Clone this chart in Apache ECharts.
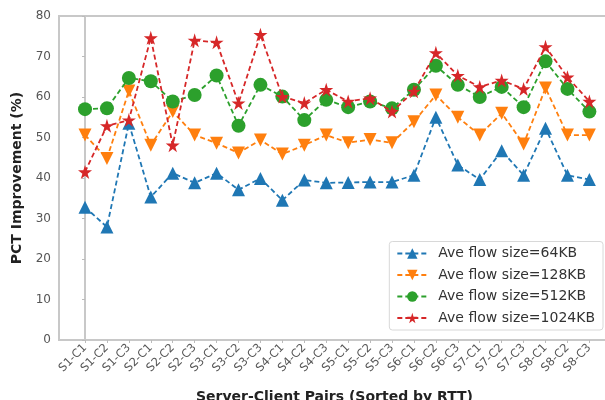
<!DOCTYPE html>
<html>
<head>
<meta charset="utf-8">
<script src="https://cdn.jsdelivr.net/npm/echarts@6/dist/echarts.min.js"></script>
<style>html,body{margin:0;padding:0;background:#fff}#c{width:605px;height:400px}</style>
</head>
<body>
<div id="c"></div>
<script>
const categories = ["S1-C1","S1-C2","S1-C3","S2-C1","S2-C2","S2-C3","S3-C1","S3-C2","S3-C3","S4-C1","S4-C2","S4-C3",
  "S5-C1","S5-C2","S5-C3","S6-C1","S6-C2","S6-C3","S7-C1","S7-C2","S7-C3","S8-C1","S8-C2","S8-C3"];
const seriesNames = ["Ave flow size=64KB","Ave flow size=128KB","Ave flow size=512KB","Ave flow size=1024KB"];
const flow64 = [32.8,27.9,53.5,35.3,41.2,38.8,41.2,37.1,39.9,34.5,39.5,38.8,38.9,39.0,39.0,40.7,55.0,43.2,39.6,46.7,40.7,52.3,40.7,39.6];
const flow128 = [50.6,44.8,61.5,48.1,56.4,50.6,48.6,46.2,49.4,45.9,48.1,50.6,48.7,49.5,48.7,53.9,60.5,55.0,50.6,56.0,48.4,62.2,50.6,50.6];
const flow512 = [57.0,57.2,64.7,63.9,58.9,60.5,65.3,52.9,63.0,60.1,54.3,59.3,57.5,58.9,57.2,61.8,67.7,63.0,60.0,62.5,57.5,68.8,62.0,56.4];
const flow1024 = [41.5,52.9,54.3,74.6,48.1,74.0,73.5,58.5,75.4,60.1,58.5,61.8,58.9,59.7,56.4,61.4,70.9,65.3,62.5,64.1,62.0,72.4,64.9,58.9];
const yTicks = [0,10,20,30,40,50,60,70,80];

const colors = ['#1f77b4','#ff7f0e','#2ca02c','#d62728'];
const starPath = 'path://M50,0 L61,35 L98,35 L68,57 L79,91 L50,70 L21,91 L32,57 L2,35 L39,35 Z';
const symbols = ['triangle','triangle','circle',starPath];
const rotates = [0,180,0,0];
const sizes = [13,13,14,14];
const allData = [flow64, flow128, flow512, flow1024];
const idx = categories.map((_, i) => i);

const chart = echarts.init(document.getElementById('c'), null, {renderer:'canvas'});
chart.setOption({
  animation: false,
  backgroundColor: '#fff',
  textStyle: {fontFamily: 'DejaVu Sans'},
  grid: {left: 59, right: -5, top: 16, bottom: 60, show: true, borderColor: '#c8c8c8', borderWidth: 2,
    containLabel: false, outerBoundsMode: 'none'},
  legend: {
    orient: 'vertical', right: 2, bottom: 70,
    data: seriesNames,
    itemWidth: 30, itemHeight: 13, itemGap: 7.5,
    padding: [5, 8, 5, 7],
    borderColor: '#d8d8d8', borderWidth: 1, borderRadius: 3,
    backgroundColor: '#fff',
    textStyle: {fontSize: 14, color: '#333', fontFamily: 'DejaVu Sans', padding: [0, 0, 0, 6]}
  },
  xAxis: {
    type: 'value',
    min: -1.186, max: 23.94,
    name: 'Server-Client Pairs (Sorted by RTT)',
    nameLocation: 'middle', nameGap: 50,
    nameTextStyle: {fontSize: 14, fontWeight: 'bold', color: '#222', fontFamily: 'DejaVu Sans'},
    axisLine: {show: true, lineStyle: {color: '#c8c8c8', width: 2}},
    axisTick: {show: true, customValues: idx, length: 3, lineStyle: {color: '#bbb'}},
    axisLabel: {customValues: idx, rotate: 45, fontSize: 11.5, color: '#555', margin: 6,
      formatter: v => categories[Math.round(v)] || ''},
    splitLine: {show: false}
  },
  yAxis: {
    type: 'value', min: 0, max: 80, interval: 10,
    name: 'PCT Improvement (%)',
    nameLocation: 'middle', nameGap: 33,
    nameTextStyle: {fontSize: 14, fontWeight: 'bold', color: '#222', fontFamily: 'DejaVu Sans'},
    axisLine: {show: true, lineStyle: {color: '#c8c8c8', width: 2}},
    axisTick: {show: true, length: 3, lineStyle: {color: '#bbb'}},
    axisLabel: {fontSize: 12, color: '#555', margin: 8, formatter: v => yTicks.includes(v) ? String(v) : ''},
    splitLine: {show: false}
  },
  series: allData.map((d, k) => ({
    name: seriesNames[k],
    type: 'line',
    data: d.map((v, i) => [i, v]),
    symbol: symbols[k],
    symbolRotate: rotates[k],
    symbolSize: sizes[k],
    showAllSymbol: true,
    lineStyle: {color: colors[k], width: 1.8, type: [5, 3]},
    itemStyle: {color: colors[k]},
    z: 2 + k
  }))
});
</script>
</body>
</html>
